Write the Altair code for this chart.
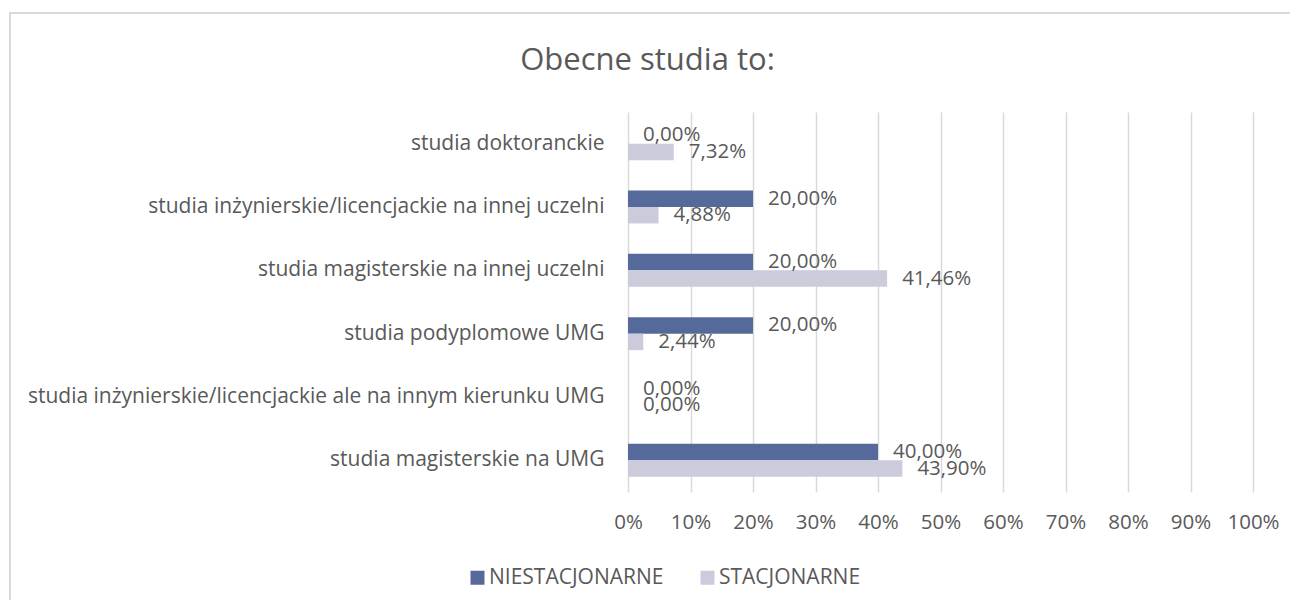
import altair as alt
import pandas as pd

categories = [
    "studia doktoranckie",
    "studia inżynierskie/licencjackie na innej uczelni",
    "studia magisterskie na innej uczelni",
    "studia podyplomowe UMG",
    "studia inżynierskie/licencjackie ale na innym kierunku UMG",
    "studia magisterskie na UMG",
]
series = ["NIESTACJONARNE", "STACJONARNE"]
niestacjonarne = [0.0, 20.0, 20.0, 20.0, 0.0, 40.0]
stacjonarne = [7.32, 4.88, 41.46, 2.44, 0.0, 43.90]
colors = ["#55699A", "#CBCBDC"]
title_text = "Obecne studia to:"

rows = []
for i, c in enumerate(categories):
    rows.append({"cat": c, "series": series[0], "v": niestacjonarne[i] / 100})
    rows.append({"cat": c, "series": series[1], "v": stacjonarne[i] / 100})
df = pd.DataFrame(rows)

FONT = "Open Sans"
TXT = "#595959"

y_enc = alt.Y("cat:N", sort=categories, title=None,
              scale=alt.Scale(paddingInner=0.48, paddingOuter=0.24),
              axis=alt.Axis(labelFontSize=21, labelColor=TXT, labelFont=FONT,
                            ticks=False, domain=False, labelPadding=24,
                            labelLimit=1000, grid=False))
yoff = alt.YOffset("series:N", sort=series,
                   scale=alt.Scale(paddingInner=0, paddingOuter=0))
x_enc = alt.X("v:Q", title=None,
              scale=alt.Scale(domain=[0, 1]),
              axis=alt.Axis(values=[i / 10 for i in range(11)], format=".0%",
                            labelFontSize=20.5, labelColor=TXT, labelFont=FONT,
                            ticks=False, domain=False, labelPadding=20,
                            grid=True, gridColor="#D9D9D9", gridWidth=1.5,
                            labelFlush=False))

base = alt.Chart(df)

bars = base.mark_bar().encode(
    y=y_enc,
    yOffset=yoff,
    x=x_enc,
    color=alt.Color("series:N", sort=series,
                    scale=alt.Scale(domain=series, range=colors),
                    legend=alt.Legend(title=None, orient="none",
                                      legendX=-161, legendY=455,
                                      direction="horizontal",
                                      symbolType="square", symbolSize=196,
                                      symbolStrokeWidth=0,
                                      labelFontSize=21, labelFont=FONT,
                                      labelColor=TXT, labelOffset=1,
                                      labelLimit=1000,
                                      columnPadding=33, padding=0)),
)

labels = base.transform_calculate(
    lab="replace(format(datum.v, '.2%'), '.', ',')"
).mark_text(align="left", baseline="middle", dx=15, fontSize=20.5,
            font=FONT, color=TXT).encode(
    y=alt.Y("cat:N", sort=categories),
    yOffset=alt.YOffset("series:N", sort=series),
    x=alt.X("v:Q"),
    text="lab:N",
)

title = alt.Chart(pd.DataFrame({"t": [title_text]})).mark_text(
    align="center", baseline="alphabetic", fontSize=31, font=FONT, color=TXT
).encode(
    x=alt.value(19.5), y=alt.value(-42), text="t:N"
)

border = alt.Chart(pd.DataFrame({"a": [0]})).mark_rect(
    fill="transparent", stroke="#D9D9D9", strokeWidth=2
).encode(
    x=alt.value(-618), x2=alt.value(700),
    y=alt.value(-99), y2=alt.value(520),
)

chart = alt.layer(border, bars, labels, title).properties(
    width=625, height=380,
    autosize=alt.AutoSizeParams(type="none"),
    padding={"left": 620, "top": 104, "right": 37, "bottom": 108},
).configure_view(stroke=None)

chart.save("out.html", embed_options={"renderer": "svg", "actions": False})
